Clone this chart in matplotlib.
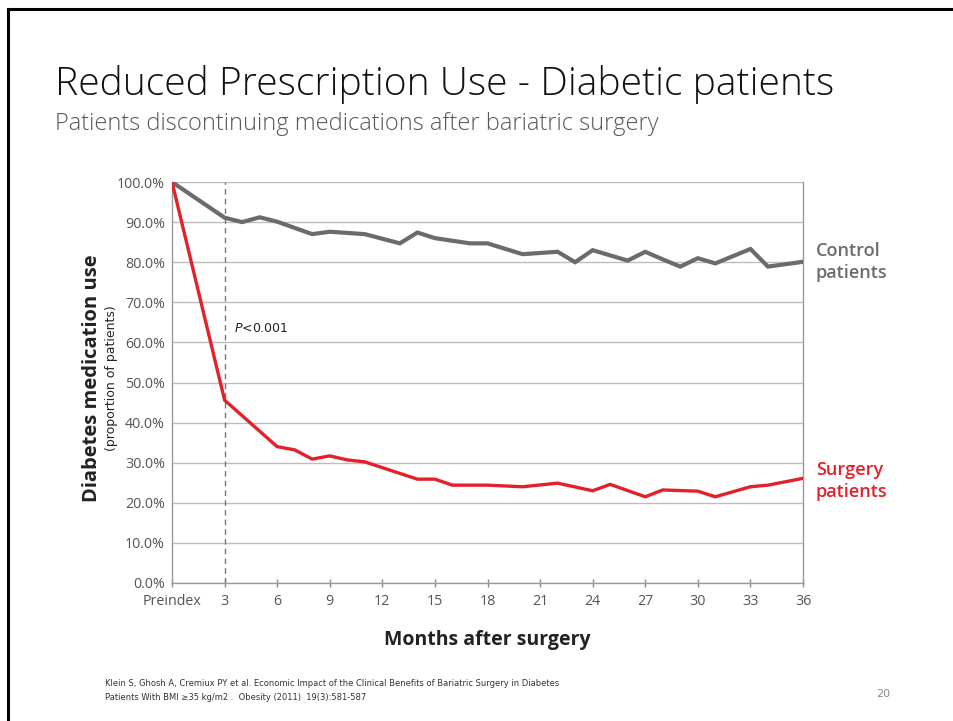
import matplotlib
matplotlib.use("Agg")
import matplotlib.pyplot as plt
from matplotlib.lines import Line2D

# ---- data ----
control_months = [0, 3, 4, 5, 6, 8, 9, 11, 13, 14, 15, 17, 18, 20, 22, 23, 24, 26, 27, 28, 29, 30, 31, 33, 34, 36]
control_values = [100.0, 91.1, 90.0, 91.2, 90.1, 87.0, 87.6, 87.0, 84.7, 87.4, 86.0, 84.7, 84.7, 82.0, 82.6, 80.0,
                  83.0, 80.4, 82.6, 80.7, 78.9, 81.0, 79.7, 83.3, 78.9, 80.1]
surgery_months = [0, 3, 6, 7, 8, 9, 10, 11, 14, 15, 16, 18, 20, 22, 24, 25, 27, 28, 30, 31, 33, 34, 36]
surgery_values = [100.0, 45.6, 34.0, 33.2, 30.9, 31.7, 30.7, 30.2, 25.9, 25.9, 24.4, 24.4, 24.0, 24.9, 23.0,
                  24.6, 21.5, 23.2, 22.9, 21.5, 24.0, 24.4, 26.1]
x_ticks = [0, 3, 6, 9, 12, 15, 18, 21, 24, 27, 30, 33, 36]
x_ticklabels = ["Preindex", "3", "6", "9", "12", "15", "18", "21", "24", "27", "30", "33", "36"]
y_ticks = [0, 10, 20, 30, 40, 50, 60, 70, 80, 90, 100]
y_ticklabels = [f"{v:.1f}%" for v in y_ticks]

GRAY = "#6b6b6b"
RED = "#e3212b"
TICKC = "#555555"

W, H = 954, 721
fig = plt.figure(figsize=(W / 100, H / 100), dpi=100)
fig.patch.set_facecolor("white")

# slide frame (top and left)
fig.add_artist(Line2D([8.5 / W, 1.0], [1 - 8.5 / H, 1 - 8.5 / H], color="black", lw=2.2,
                      transform=fig.transFigure))
fig.add_artist(Line2D([8.5 / W, 8.5 / W], [0, 1 - 8.5 / H], color="black", lw=2.2,
                      transform=fig.transFigure))

# titles
fig.text(55 / W, 1 - 84 / H, "Reduced Prescription Use - Diabetic patients", fontsize=28.1,
         family="Open Sans", fontweight="light", color="#111111", va="center", ha="left")
fig.text(55 / W, 1 - 124 / H, "Patients discontinuing medications after bariatric surgery", fontsize=17,
         family="Open Sans", fontweight="light", color="#595959", va="center", ha="left")

left, right, bottom, top = 172, 803, 583, 182
ax = fig.add_axes([left / W, 1 - bottom / H, (right - left) / W, (bottom - top) / H])

ax.plot(control_months, control_values, color=GRAY, lw=3.0, solid_joinstyle="miter", zorder=3)
ax.plot(surgery_months, surgery_values, color=RED, lw=2.4, solid_joinstyle="miter", zorder=4)
ax.axvline(3, color="#777777", lw=1.0, ls=(0, (4, 3)), zorder=2)

ax.set_xlim(0, 36)
ax.set_ylim(0, 100)
ax.set_xticks(x_ticks)
ax.set_xticklabels(x_ticklabels)
ax.set_yticks(y_ticks)
ax.set_yticklabels(y_ticklabels)
ax.yaxis.grid(True, color="#bdbdbd", lw=1.0)
ax.set_axisbelow(True)
for s in ["left", "bottom", "right"]:
    ax.spines[s].set_color("#9a9a9a")
    ax.spines[s].set_linewidth(1.0)
ax.spines["top"].set_visible(False)
ax.tick_params(axis="both", colors="#8a8a8a", labelcolor=TICKC, labelsize=10.3, direction="inout",
               length=6, width=1.0)
ax.tick_params(axis="y", length=0, pad=5)
ax.tick_params(axis="x", pad=5)
for lab in ax.get_xticklabels() + ax.get_yticklabels():
    lab.set_family("Open Sans")

ax.text(3.55, 63.5, "$P$<0.001", fontsize=9, color="#222222", va="center", ha="left", family="DejaVu Sans")

# right-side labels
fig.text(816 / W, 1 - 262 / H, "Control\npatients", fontsize=13, color=GRAY, fontweight="semibold",
         family="Open Sans", va="center", ha="left", linespacing=1.3)
fig.text(816 / W, 1 - 481 / H, "Surgery\npatients", fontsize=13, color=RED, fontweight="semibold",
         family="Open Sans", va="center", ha="left", linespacing=1.3)

# axis labels
fig.text(92 / W, 1 - 378 / H, "Diabetes medication use", rotation=90, fontsize=14.5, fontweight="bold",
         family="Open Sans", color="#222222", va="center", ha="center")
fig.text(112 / W, 1 - 378 / H, "(proportion of patients)", rotation=90, fontsize=9,
         family="DejaVu Sans", color="#222222", va="center", ha="center")
fig.text(487 / W, 1 - 640 / H, "Months after surgery", fontsize=14, fontweight="bold",
         family="Open Sans", color="#222222", va="center", ha="center")

# citation and page number
fig.text(105 / W, 1 - 683 / H,
         "Klein S, Ghosh A, Cremiux PY et al. Economic Impact of the Clinical Benefits of Bariatric Surgery in Diabetes",
         fontsize=6, family="Liberation Sans Narrow", color="#333333", va="center", ha="left")
fig.text(105 / W, 1 - 697 / H,
         "Patients With BMI \u226535 kg/m2 .  Obesity (2011)  19(3):581-587",
         fontsize=6, family="Liberation Sans Narrow", color="#333333", va="center", ha="left")
fig.text(883 / W, 1 - 694 / H, "20", fontsize=8, color="#8a8a8a", va="center", ha="center",
         family="Liberation Sans Narrow")

fig.savefig("out.png", dpi=100, facecolor="white")
